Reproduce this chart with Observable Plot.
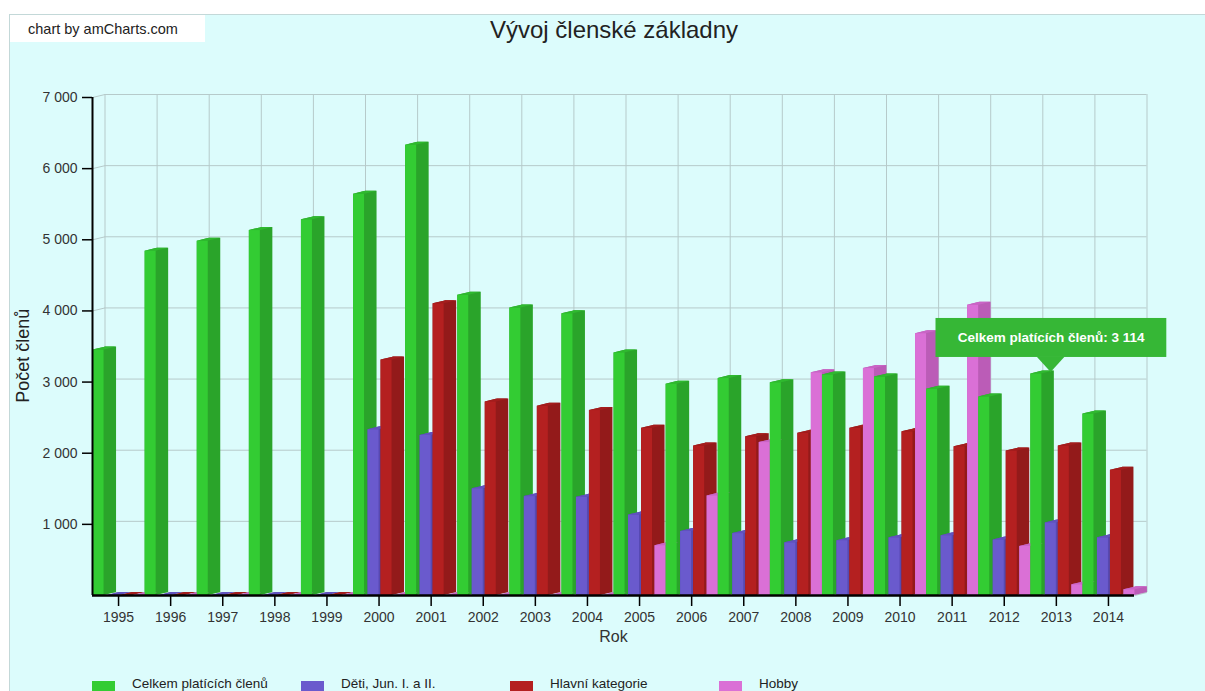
<!DOCTYPE html>
<html><head><meta charset="utf-8">
<script src="https://cdn.jsdelivr.net/npm/d3@7"></script>
<script src="https://cdn.jsdelivr.net/npm/@observablehq/plot@0.6"></script>
<style>
html,body{margin:0;padding:0;background:#fff;}
#page{position:relative;width:1205px;height:691px;overflow:hidden;font-family:"Liberation Sans",Arial,sans-serif;}
#frame{position:absolute;left:9px;top:14px;width:1200px;height:700px;background:#dcfcfc;border-left:1px solid #c3d8d8;border-top:1px solid #c3d8d8;}
#wm{position:absolute;left:10px;top:15px;width:195px;height:27px;background:#fff;font-size:14.5px;color:#222;line-height:28px;padding-left:18px;box-sizing:border-box;}
#title{position:absolute;left:0;top:16px;width:1228px;text-align:center;font-size:24px;color:#222;}
#chart{position:absolute;left:0;top:60px;}
.lg-box{position:absolute;top:681px;width:23px;height:23px;}
.lg-txt{position:absolute;top:678px;font-size:13.5px;line-height:12px;color:#222;white-space:nowrap;}
</style></head>
<body><div id="page">
<div id="frame"></div>
<div id="wm">chart by amCharts.com</div>
<div id="title">Vývoj členské základny</div>
<div id="chart"></div>
<div id="legend"></div>
</div>
<script>
// ---- data ----
const years = [1995,1996,1997,1998,1999,2000,2001,2002,2003,2004,2005,2006,2007,2008,2009,2010,2011,2012,2013,2014];
const seriesNames = ["Celkem platících členů","Děti, Jun. I. a II.","Hlavní kategorie","Hobby"];
const celkem = [3450,4840,4980,5130,5280,5640,6330,4220,4040,3960,3410,2970,3050,2990,3100,3070,2900,2790,3114,2550];
const deti   = [0,0,0,0,0,2330,2250,1500,1390,1380,1130,900,870,740,770,810,840,780,1020,810];
const hlavni = [0,0,0,0,0,3310,4100,2720,2660,2600,2350,2100,2230,2280,2350,2300,2090,2030,2100,1760];
const hobby  = [0,0,0,0,0,0,0,0,0,0,700,1400,2150,3130,3190,3680,4080,690,150,80];
const yTicks = [1000,2000,3000,4000,5000,6000,7000];
const yTickLabels = ["1 000","2 000","3 000","4 000","5 000","6 000","7 000"];
const tipYear = 2013;
const tipLabel = "Celkem platících členů: 3 114";

// ---- styles / geometry ----
const frontColors = ["#33cc33","#6a5acd","#b42020","#da70d6"];
const sideColors  = ["#2aa42a","#5749b0","#931a1a","#bb5cb7"];
const topColors   = ["#2fb82f","#6152be","#a31d1d","#c964c5"];
const seriesVals = [celkem, deti, hlavni, hobby];
const X0 = 1994.5, X1 = 2014.5;
const PX = 1 / 52.1;           // one pixel in year units
const PY = 7000 / 498;         // one pixel in value units
const DX = 12.5 * PX, DY = 3 * PY, FW = 11 * PX;
const offsets = [-25.5, -11, 2, 15.5].map(p => p * PX);

const cols = [];
years.forEach((yr, i) => seriesVals.forEach((vals, s) => {
  const x1 = yr + offsets[s];
  cols.push({id: i * 4 + s, s, x1, x2: x1 + FW, v: vals[i]});
}));
const sidePts = cols.flatMap(c => [
  {id: c.id, s: c.s, x: c.x1, lo: 0, hi: c.v},
  {id: c.id, s: c.s, x: c.x2, lo: 0, hi: c.v + DY * FW / DX},
  {id: c.id, s: c.s, x: c.x1 + DX, lo: DY * (DX - FW) / DX, hi: c.v + DY},
  {id: c.id, s: c.s, x: c.x2 + DX, lo: DY, hi: c.v + DY}
]);
const topPts = cols.flatMap(c => [
  {id: c.id, s: c.s, x: c.x1, lo: c.v, hi: c.v},
  {id: c.id, s: c.s, x: c.x2, lo: c.v, hi: c.v + DY * FW / DX},
  {id: c.id, s: c.s, x: c.x1 + DX, lo: c.v + DY * (DX - FW) / DX, hi: c.v + DY},
  {id: c.id, s: c.s, x: c.x2 + DX, lo: c.v + DY, hi: c.v + DY}
]);
const bounds = years.map(y => y - 0.5).concat([X1]);
const gridY = [0].concat(yTicks);

const tipValue = celkem[years.indexOf(tipYear)];
const boxBottom = tipValue + 232, boxTop = tipValue + 780;
const pointer = [
  {x: tipYear - 0.37, lo: boxBottom + 5, hi: boxBottom + 5},
  {x: tipYear - 0.1, lo: tipValue + 20, hi: boxBottom + 5},
  {x: tipYear + 0.17, lo: boxBottom + 5, hi: boxBottom + 5}
];
const gridColor = "#b6caca";

const chart = Plot.plot({
  width: 1205, height: 600,
  marginLeft: 92, marginRight: 71, marginTop: 37, marginBottom: 65,
  x: {type: "linear", domain: [X0, X1], axis: null},
  y: {type: "linear", domain: [0, 7000], axis: null},
  color: {type: "identity"},
  style: {background: "transparent", overflow: "visible", fontFamily: "Liberation Sans, Arial, sans-serif"},
  marks: [
    // back wall grid
    Plot.ruleY(gridY, {y: d => d + DY, x1: X0 + DX, x2: X1 + DX, stroke: gridColor}),
    Plot.link(gridY, {x1: X0, y1: d => d, x2: X0 + DX, y2: d => d + DY, stroke: gridColor}),
    Plot.ruleX(bounds, {x: d => d + DX, y1: DY, y2: 7000 + DY, stroke: gridColor}),
    Plot.link([X1], {x1: d => d, y1: 0, x2: d => d + DX, y2: DY, stroke: gridColor}),
    // columns: sides, tops, fronts
    Plot.area(sidePts, {x1: "x", y1: "lo", y2: "hi", z: "id", fill: d => sideColors[d.s], curve: "linear"}),
    Plot.area(topPts, {x1: "x", y1: "lo", y2: "hi", z: "id", fill: d => topColors[d.s], curve: "linear"}),
    Plot.rect(cols, {x1: "x1", x2: "x2", y1: 0, y2: "v", fill: d => frontColors[d.s]}),
    // axes
    Plot.ruleX([X0], {y1: 0, y2: 7000, stroke: "#000", strokeWidth: 2}),
    Plot.ruleY([0], {x1: X0, x2: X1, stroke: "#000", strokeWidth: 2.5}),
    Plot.ruleY(yTicks, {y: d => d, x1: X0 - 10 * PX, x2: X0, stroke: "#000", strokeWidth: 1.5}),
    Plot.text(yTicks, {x: X0, y: d => d, text: (d, i) => yTickLabels[i], textAnchor: "end", dx: -15, fontSize: 14, fill: "#333"}),
    Plot.ruleX(years, {x: d => d, y1: 0, y2: -11 * PY, stroke: "#000", strokeWidth: 1.5}),
    Plot.text(years, {x: d => d, y: 0, dy: 22, text: d => String(d), fontSize: 14, fill: "#333"}),
    Plot.text(["Rok"], {x: (X0 + X1) / 2, y: 0, dy: 41, text: d => d, fontSize: 16, fill: "#333"}),
    Plot.text(["Počet členů"], {x: X0, y: 3370, dx: -69, rotate: -90, text: d => d, fontSize: 18, fill: "#222"}),
    // tooltip balloon
    Plot.rect([tipValue], {x1: tipYear - 2.31, x2: tipYear + 2.12, y1: boxBottom, y2: boxTop, fill: "#36b736"}),
    Plot.area(pointer, {x1: "x", y1: "lo", y2: "hi", fill: "#36b736", curve: "linear"}),
    Plot.text([tipLabel], {x: tipYear - 0.1, y: (boxBottom + boxTop) / 2, text: d => d, fill: "#fff", fontSize: 13.5, fontWeight: "bold"})
  ]
});
document.getElementById("chart").appendChild(chart);

// legend
const lg = document.getElementById("legend");
seriesNames.forEach((name, i) => {
  const b = document.createElement("div");
  b.className = "lg-box"; b.style.left = (92 + i * 209) + "px"; b.style.background = frontColors[i];
  const t = document.createElement("div");
  t.className = "lg-txt"; t.style.left = (132 + i * 209) + "px"; t.textContent = name;
  lg.appendChild(b); lg.appendChild(t);
});
</script>
</body></html>
